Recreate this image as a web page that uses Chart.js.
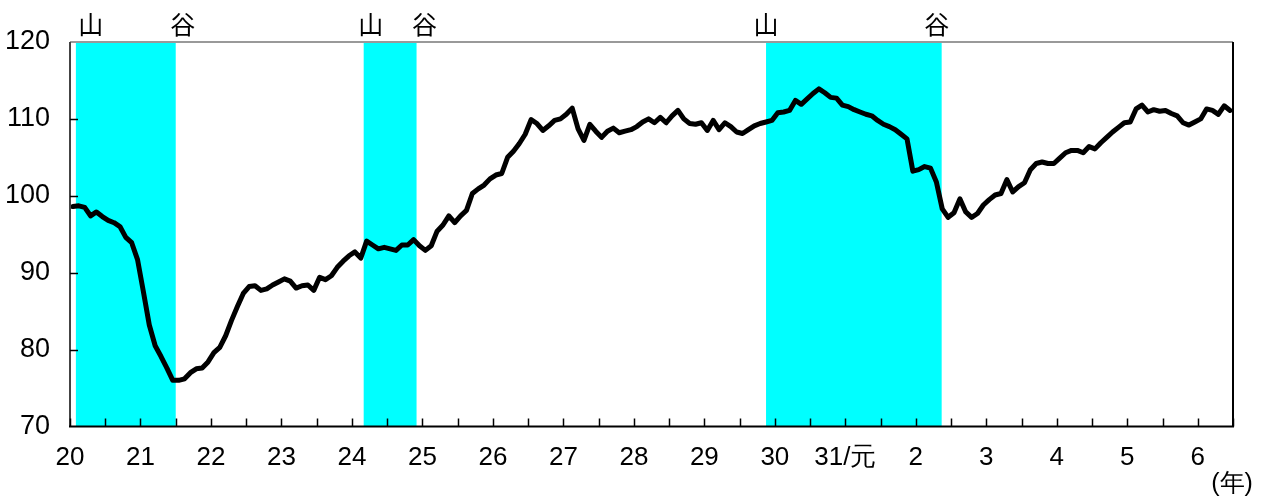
<!DOCTYPE html>
<html>
<head>
<meta charset="utf-8">
<script src="https://cdn.jsdelivr.net/npm/chart.js@4/dist/chart.umd.min.js"></script>
<style>
  html, body { margin: 0; padding: 0; background: #fff; }
  #c { display: block; }
</style>
</head>
<body>
<canvas id="c" width="1267" height="501"></canvas>
<script>
// year labels at each January (Heisei 20 .. Reiwa 6)
const yearLabels = ['20', '21', '22', '23', '24', '25', '26', '27', '28', '29', '30', '31/元', '2', '3', '4', '5', '6'];

// monthly index, Jan H20 .. Jun R6
const ciValues = [
  98.6, 98.7, 98.5, 97.4, 97.9, 97.3, 96.8, 96.5, 96.0, 94.6, 93.9, 91.7,
  87.5, 83.2, 80.5, 79.1, 77.6, 76.0, 76.0, 76.2, 77.0, 77.5, 77.6, 78.4,
  79.6, 80.3, 81.8, 83.8, 85.6, 87.3, 88.2, 88.3, 87.7, 87.9, 88.4, 88.8,
  89.2, 88.9, 88.0, 88.3, 88.4, 87.7, 89.4, 89.1, 89.6, 90.7, 91.5, 92.2,
  92.7, 91.9, 94.1, 93.6, 93.1, 93.3, 93.1, 92.9, 93.6, 93.6, 94.3, 93.5,
  92.9, 93.5, 95.4, 96.2, 97.4, 96.5, 97.4, 98.1, 100.3, 100.9, 101.4, 102.2,
  102.7, 102.9, 105.0, 105.8, 106.8, 108.0, 109.9, 109.4, 108.5, 109.1, 109.8, 110.0,
  110.6, 111.4, 108.7, 107.2, 109.3, 108.4, 107.6, 108.4, 108.8, 108.2, 108.4, 108.6,
  109.0, 109.6, 110.0, 109.5, 110.2, 109.5, 110.4, 111.1, 110.0, 109.4, 109.3, 109.5,
  108.5, 109.8, 108.6, 109.5, 109.0, 108.3, 108.1, 108.6, 109.1, 109.4, 109.6, 109.8,
  110.8, 110.9, 111.1, 112.4, 111.9, 112.6, 113.3, 113.9, 113.4, 112.8, 112.7, 111.8,
  111.6, 111.2, 110.9, 110.6, 110.4, 109.8, 109.3, 109.0, 108.6, 108.0, 107.4, 103.2,
  103.4, 103.8, 103.6, 101.8, 98.3, 97.2, 97.8, 99.6, 97.9, 97.2, 97.7, 98.8,
  99.5, 100.1, 100.3, 102.1, 100.5, 101.2, 101.7, 103.4, 104.2, 104.4, 104.2, 104.2,
  104.9, 105.6, 105.9, 105.9, 105.6, 106.4, 106.1, 106.9, 107.6, 108.3, 108.9, 109.5,
  109.6, 111.3, 111.8, 110.9, 111.2, 111.0, 111.1, 110.7, 110.4, 109.5, 109.2, 109.6,
  110.0, 111.3, 111.1, 110.6, 111.7, 111.1
];

// business cycle peaks (山) and troughs (谷), in months from Jan H20
const peakMonths = [1, 50, 118.5];
const troughMonths = [18, 59, 148.4];

const yMin = 70, yMax = 120, yStep = 10;
const monthsShown = 198;

const fontFamily = '"Liberation Sans", Arial, sans-serif';
const cjkFont = '25px "Noto Sans CJK JP", sans-serif';
const labelNudge = [[15, 7], [7, 8], [0, -5]];

const points = ciValues.map((v, i) => ({ x: i + 0.5, y: v }));

const decor = {
  id: 'decor',
  beforeDatasetsDraw(chart) {
    const { ctx, chartArea: a, scales: { x } } = chart;
    ctx.save();
    ctx.fillStyle = '#00ffff';
    peakMonths.forEach((p, k) => {
      const x0 = x.getPixelForValue(p);
      const x1 = x.getPixelForValue(troughMonths[k]);
      ctx.fillRect(x0, a.top, x1 - x0, a.bottom - a.top);
    });
    ctx.restore();
  },
  afterDraw(chart) {
    const { ctx, chartArea: a, scales: { x, y } } = chart;
    ctx.save();
    // frame
    ctx.lineWidth = 2;
    ctx.strokeStyle = '#999';
    ctx.beginPath(); ctx.moveTo(a.left, a.top); ctx.lineTo(a.right, a.top); ctx.stroke();
    ctx.strokeStyle = '#444';
    ctx.beginPath(); ctx.moveTo(a.left, a.top); ctx.lineTo(a.left, a.bottom); ctx.stroke();
    ctx.strokeStyle = '#000';
    ctx.beginPath(); ctx.moveTo(a.right, a.top); ctx.lineTo(a.right, a.bottom); ctx.stroke();
    ctx.beginPath(); ctx.moveTo(a.left - 1, a.bottom); ctx.lineTo(a.right + 1, a.bottom); ctx.stroke();
    // inward ticks
    ctx.lineWidth = 1.5;
    x.ticks.forEach(t => {
      const px = Math.round(x.getPixelForValue(t.value)) + 0.5;
      ctx.beginPath(); ctx.moveTo(px, a.bottom); ctx.lineTo(px, a.bottom - 8); ctx.stroke();
    });
    y.ticks.forEach(t => {
      if (t.value === yMin || t.value === yMax) return;
      const py = Math.round(y.getPixelForValue(t.value)) + 0.5;
      ctx.beginPath(); ctx.moveTo(a.left, py); ctx.lineTo(a.left + 8, py); ctx.stroke();
    });
    // peak / trough marks
    ctx.fillStyle = '#000';
    ctx.font = cjkFont;
    ctx.textAlign = 'center';
    ctx.textBaseline = 'middle';
    peakMonths.forEach((p, k) => {
      ctx.fillText('山', x.getPixelForValue(p) + labelNudge[k][0], 24);
      ctx.fillText('谷', x.getPixelForValue(troughMonths[k]) + labelNudge[k][1], 24);
    });
    ctx.font = '25px ' + fontFamily;
    ctx.fillText('(年)', 1232, 484);
    ctx.restore();
  }
};

new Chart(document.getElementById('c'), {
  type: 'line',
  data: {
    datasets: [{
      data: points,
      borderColor: '#000',
      borderWidth: 5,
      pointRadius: 0,
      tension: 0,
      borderJoinStyle: 'round',
      borderCapStyle: 'round',
      fill: false
    }]
  },
  options: {
    responsive: false,
    animation: false,
    devicePixelRatio: 1,
    layout: { padding: { top: 42, right: 34, left: 0, bottom: 0 } },
    plugins: { legend: { display: false }, tooltip: { enabled: false } },
    scales: {
      x: {
        type: 'linear',
        min: 0,
        max: monthsShown,
        grid: { display: false },
        border: { display: false },
        afterBuildTicks(s) {
          const t = [];
          for (let m = 0; m <= monthsShown; m += 6) t.push({ value: m });
          s.ticks = t;
        },
        afterFit(s) { s.height = 74.5; },
        ticks: {
          autoSkip: false,
          maxRotation: 0,
          padding: 8,
          color: '#000',
          font: { family: fontFamily, size: 26 },
          callback: v => (v % 12 === 0 ? yearLabels[v / 12] : '')
        }
      },
      y: {
        min: yMin,
        max: yMax,
        grid: { display: false },
        border: { display: false },
        afterFit(s) { s.width = 70; },
        ticks: { stepSize: yStep, padding: 12, color: '#000', font: { family: fontFamily, size: 27 } }
      }
    }
  },
  plugins: [decor]
});
</script>
</body>
</html>
